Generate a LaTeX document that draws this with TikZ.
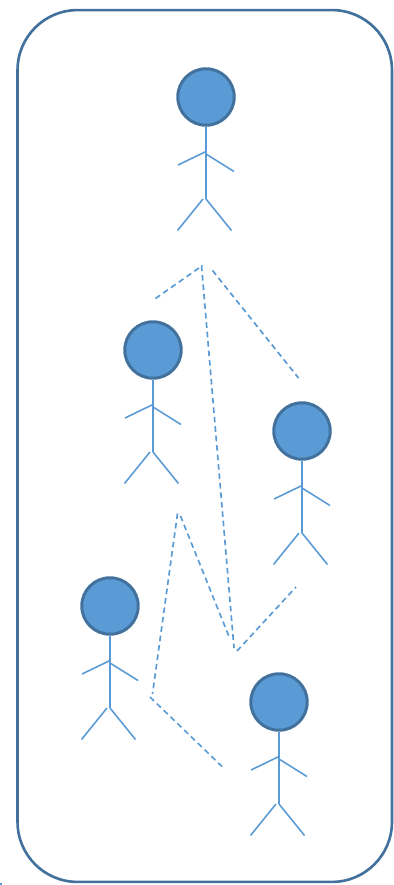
\documentclass[tikz,border=0pt]{standalone}
\definecolor{actorfill}{HTML}{5B9BD5}
\definecolor{actoredge}{HTML}{41719C}
\tikzset{
  head/.style={circle,draw=actoredge,fill=actorfill,line width=1.7pt,minimum size=1.13cm,inner sep=0pt},
  limb/.style={actorfill,line width=.9pt},
  link/.style={actorfill,line width=.95pt,dash pattern=on 3.2pt off 2.2pt},
  frame/.style={draw=actoredge,line width=1.5pt,rounded corners=1.2cm,minimum width=7.49cm,minimum height=17.44cm,inner sep=0pt}
}
\begin{document}
\begin{tikzpicture}[x=.02cm,y=-.02cm]
\useasboundingbox (0,0) rectangle (393,885);
\node [frame] (box) at (204.75,446) {};
\fill [actorfill] (0,883) rectangle (1.5,885);

% actors
\foreach \n/\x/\y in {top/206/97,left/153/350,right/302/431,low/110/606,bot/279/702} {
  \node [head] (head\n) at (\x,\y) {};
  \coordinate (neck\n) at (\x,\y+54.5);
  \coordinate (hip\n) at (\x,\y+102);
  \draw [limb] (head\n.south) -- (hip\n);
  \draw [limb] (neck\n) -- ++(-28,13.5);
  \draw [limb] (\x,\y+57) -- ++(28,17.5);
  \draw [limb] (\x-3,\y+102) -- ++(-25.5,31.5);
  \draw [limb] (hip\n) -- ++(25.5,31.5);
}

% dashed links
\coordinate (a1) at (155.5,298.5);
\coordinate (a2) at (202.5,265.5);
\coordinate (b1) at (201.5,265.5);
\coordinate (b2) at (234,648);
\coordinate (c1) at (212.5,270.5);
\coordinate (c2) at (298.5,378);
\coordinate (d1) at (177.5,513.5);
\coordinate (d2) at (152.5,694);
\coordinate (e1) at (180.5,516);
\coordinate (e2) at (230,639);
\coordinate (f1) at (237,651);
\coordinate (f2) at (296,587);
\coordinate (g1) at (150,697);
\coordinate (g2) at (222,766.5);
\foreach \p in {a,b,c,d,e,f,g} {
  \draw [link] (\p1) -- (\p2);
}
\end{tikzpicture}
\end{document}
